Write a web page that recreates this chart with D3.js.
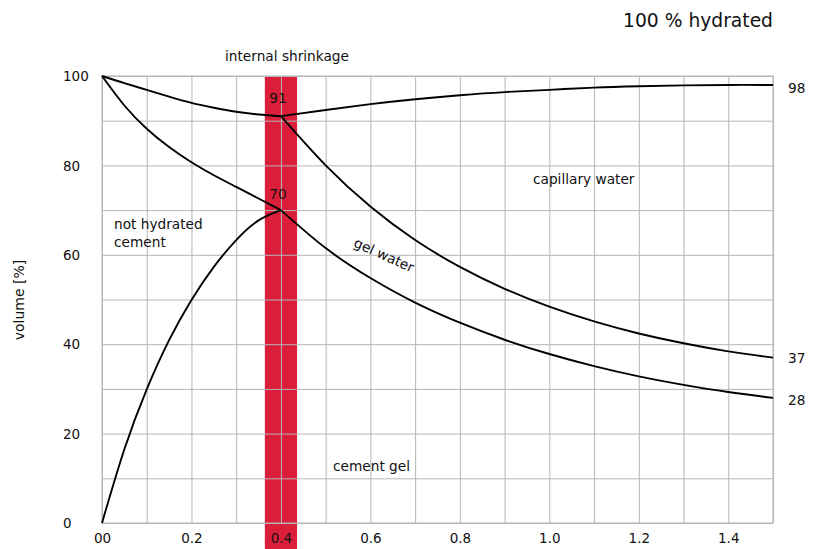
<!DOCTYPE html>
<html>
<head>
<meta charset="utf-8">
<script src="https://cdn.jsdelivr.net/npm/d3@7"></script>
<style>
  html, body { margin: 0; padding: 0; background: #fff; }
  svg { display: block; font-family: "DejaVu Sans", Verdana, sans-serif; }
</style>
</head>
<body>
<svg id="chart" width="817" height="549"></svg>
<script>
// water/cement ratio samples
const wcLow  = [0, 0.05, 0.1, 0.15, 0.2, 0.25, 0.3, 0.35, 0.4];
const wcHigh = [0.4, 0.5, 0.6, 0.7, 0.8, 0.9, 1.0, 1.1, 1.2, 1.3, 1.4, 1.5];

// total volume after hydration (upper boundary)
const totalLow  = [100, 98.4, 96.9, 95.4, 94.0, 92.9, 92.0, 91.4, 91];
const totalHigh = [91, 92.4, 93.7, 94.8, 95.7, 96.4, 96.9, 97.4, 97.7, 97.9, 98.0, 98];

// boundary of not hydrated cement (w/c below 0.4)
const unhydratedTop = [100, 93.4, 88.2, 84.1, 80.7, 77.8, 75.2, 72.6, 70];
// cement gel boundary (w/c below 0.4)
const gelLow = [0, 16.5, 29.9, 40.9, 49.9, 57.3, 63.3, 67.7, 70];

// capillary water / gel water boundary (w/c above 0.4)
const capillaryBottom = [91, 80.0, 70.8, 63.3, 57.3, 52.4, 48.4, 45.1, 42.4, 40.2, 38.4, 37];
// gel water / cement gel boundary (w/c above 0.4)
const gelWaterBottom = [70, 61.5, 54.8, 49.3, 44.8, 41.0, 37.8, 35.1, 32.8, 30.9, 29.3, 28];

// internal shrinkage band
const shrinkBand = [0.364, 0.436];

// axis ticks
const xGridValues = d3.range(0, 16).map(i => i / 10);
const xTickValues = [0, 0.2, 0.4, 0.6, 0.8, 1.0, 1.2, 1.4];
const xTickLabels = ["00", "0.2", "0.4", "0.6", "0.8", "1.0", "1.2", "1.4"];
const yGridValues = d3.range(0, 11).map(i => i * 10);
const yTickValues = [0, 20, 40, 60, 80, 100];

const svg = d3.select("#chart");
const plotLeft = 102, plotRight = 773, plotTop = 76, plotBottom = 523;

const x = d3.scaleLinear().domain([0, 1.5]).range([plotLeft, plotRight]);
const y = d3.scaleLinear().domain([0, 100]).range([plotBottom, plotTop]);

const gridColor = "#b5b5b5";
const labelSize = "13.7px";

// red band for the internal shrinkage region
svg.append("rect")
  .attr("x", x(shrinkBand[0]))
  .attr("y", plotTop)
  .attr("width", x(shrinkBand[1]) - x(shrinkBand[0]))
  .attr("height", 549 - plotTop)
  .attr("fill", "#db1f3a");

// vertical grid
const gx = svg.append("g")
  .attr("transform", `translate(0,${plotBottom})`)
  .call(d3.axisBottom(x).tickValues(xGridValues).tickSize(-(plotBottom - plotTop)).tickFormat(""));
gx.select(".domain").remove();
gx.selectAll("line").attr("stroke", gridColor).attr("stroke-width", 1);

// horizontal grid
const gy = svg.append("g")
  .attr("transform", `translate(${plotLeft},0)`)
  .call(d3.axisLeft(y).tickValues(yGridValues).tickSize(-(plotRight - plotLeft)).tickFormat(""));
gy.select(".domain").remove();
gy.selectAll("line").attr("stroke", gridColor).attr("stroke-width", 1);

// frame
svg.append("rect")
  .attr("x", plotLeft).attr("y", plotTop)
  .attr("width", plotRight - plotLeft).attr("height", plotBottom - plotTop)
  .attr("fill", "none").attr("stroke", gridColor).attr("stroke-width", 1);

// x tick labels
const xl = svg.append("g")
  .attr("transform", `translate(0,${plotBottom})`)
  .call(d3.axisBottom(x).tickValues(xTickValues).tickSize(0)
    .tickFormat((d, i) => xTickLabels[i]));
xl.select(".domain").remove();
xl.selectAll("text")
  .attr("y", 15).attr("dy", "0.35em")
  .attr("fill", "#111")
  .style("font-size", "13.5px")
  .style("font-family", "DejaVu Sans, sans-serif");

// y tick labels (left aligned)
const yl = svg.append("g")
  .attr("transform", `translate(${plotLeft},0)`)
  .call(d3.axisLeft(y).tickValues(yTickValues).tickSize(0));
yl.select(".domain").remove();
yl.selectAll("text")
  .attr("x", 63 - plotLeft).attr("dy", "0.35em")
  .attr("text-anchor", "start")
  .attr("fill", "#111")
  .style("font-size", "13.5px")
  .style("font-family", "DejaVu Sans, sans-serif");

// curves: smooth splines through evenly spaced samples
const line = (xs) => d3.line()
  .x((d, i) => x(xs[i]))
  .y(d => y(d))
  .curve(d3.curveNatural);

const curves = [
  [wcLow, totalLow],
  [wcHigh, totalHigh],
  [wcLow, unhydratedTop],
  [wcLow, gelLow],
  [wcHigh, capillaryBottom],
  [wcHigh, gelWaterBottom]
];
svg.append("g").selectAll("path")
  .data(curves)
  .join("path")
  .attr("d", ([xs, vs]) => line(xs)(vs))
  .attr("fill", "none")
  .attr("stroke", "#000")
  .attr("stroke-width", 1.9)
  .attr("stroke-linejoin", "round");

// text helper
function label(txt, px, py, opts = {}) {
  return svg.append("text")
    .attr("x", px).attr("y", py)
    .attr("dy", "0.35em")
    .attr("text-anchor", opts.anchor || "start")
    .attr("fill", "#111")
    .style("font-size", opts.size || labelSize)
    .text(txt);
}

label("100 % hydrated", plotRight, 20, { anchor: "end", size: "18.7px" });
label("internal shrinkage", 287, 56, { anchor: "middle" });
label("not hydrated", 114, 224);
label("cement", 114, 242);
label("capillary water", 533, 179);
label("cement gel", 333, 466);
label("gel water", 0, 0, { anchor: "middle" })
  .attr("transform", "translate(384,255) rotate(24)");

// values at the junction and line ends
const x04 = x(wcHigh[0]);
label(String(totalHigh[0]), x04 - 3, y(totalHigh[0]) - 18, { anchor: "middle" });
label(String(gelWaterBottom[0]), x04 - 3, y(gelWaterBottom[0]) - 16, { anchor: "middle" });
const last = wcHigh.length - 1;
label(String(totalHigh[last]), 788, y(totalHigh[last]) + 3);
label(String(capillaryBottom[last]), 788, y(capillaryBottom[last]) + 0.5);
label(String(gelWaterBottom[last]), 788, y(gelWaterBottom[last]) + 2);

// y axis title
svg.append("text")
  .attr("transform", "translate(19,300) rotate(-90)")
  .attr("dy", "0.35em")
  .attr("text-anchor", "middle")
  .attr("fill", "#111")
  .style("font-size", "14px")
  .text("volume [%]");
</script>
</body>
</html>
